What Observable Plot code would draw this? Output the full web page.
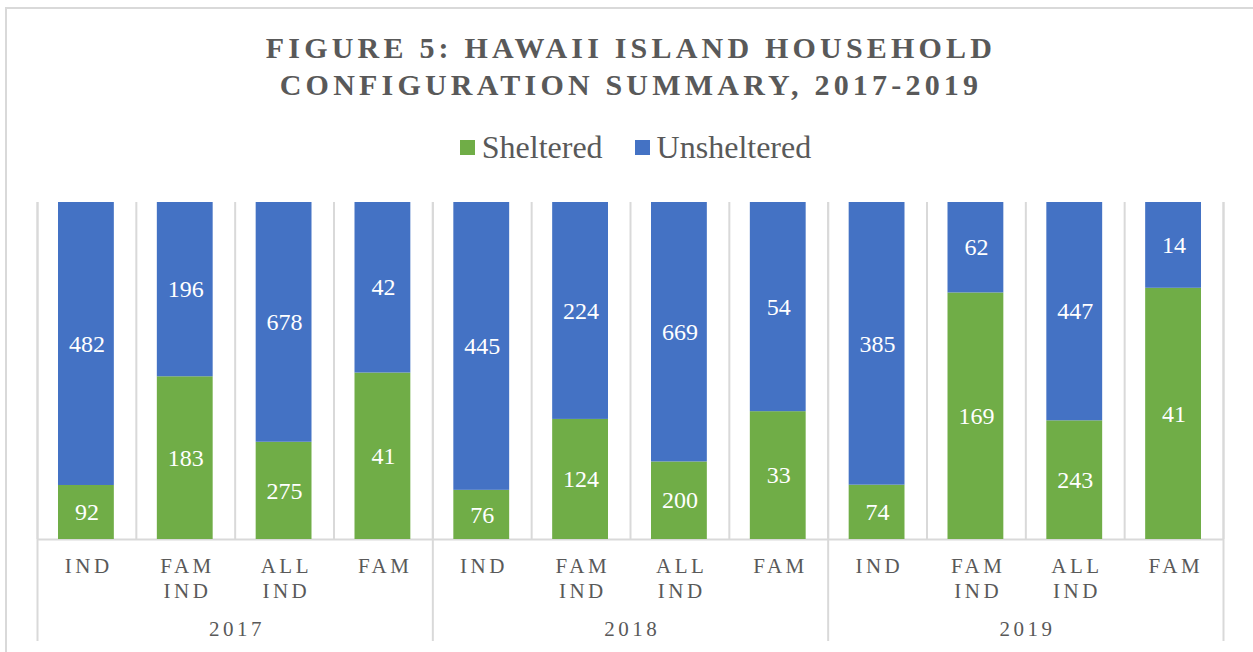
<!DOCTYPE html>
<html><head><meta charset="utf-8">
<script src="https://cdn.jsdelivr.net/npm/d3@7"></script>
<script src="https://cdn.jsdelivr.net/npm/@observablehq/plot@0.6"></script>
<style>
body{margin:0;background:#fff;}
#wrap{position:relative;width:1253px;height:652px;overflow:hidden;font-family:"Liberation Serif","Times New Roman",serif;}
#border{position:absolute;left:5px;top:7px;width:1300px;height:700px;border-left:2px solid #d9d9d9;border-top:2px solid #d9d9d9;}
#title{position:absolute;left:0;top:29px;width:1262px;text-align:center;font-weight:bold;font-size:30px;line-height:37px;letter-spacing:4.2px;color:#595959;}
#legend{position:absolute;left:0;top:127px;width:1271px;display:flex;justify-content:center;align-items:center;font-size:32px;line-height:40px;color:#595959;}
#legend .sw{display:inline-block;width:15px;height:15px;margin-right:7px;}
#legend .item{display:flex;align-items:center;}
#legend .item + .item{margin-left:32px;}
#chart{position:absolute;left:0;top:190px;}
#chart svg text{font-family:"Liberation Serif","Times New Roman",serif;}
</style>
</head><body>
<div id="wrap">
  <div id="border"></div>
  <div id="title">FIGURE 5: HAWAII ISLAND HOUSEHOLD<br>CONFIGURATION SUMMARY, 2017-2019</div>
  <div id="legend"></div>
  <div id="chart"></div>
</div>
<script>
const years = ["2017", "2018", "2019"];
const categories = ["IND", "FAM\nIND", "ALL\nIND", "FAM"];
const series = ["Sheltered", "Unsheltered"];
const colors = ["#70AD47", "#4472C4"];
const sheltered = [92, 183, 275, 41, 76, 124, 200, 33, 74, 169, 243, 41];
const unsheltered = [482, 196, 678, 42, 445, 224, 669, 54, 385, 62, 447, 14];

// Legend
const legend = document.getElementById("legend");
series.forEach((s, k) => {
  const it = document.createElement("span");
  it.className = "item";
  it.innerHTML = `<span class="sw" style="background:${colors[k]}"></span><span>${s}</span>`;
  legend.appendChild(it);
});

// Build rows
const rows = [];
const cats = [];
years.forEach((yr, yi) => {
  categories.forEach((c, ci) => {
    const i = yi * categories.length + ci;
    const s = sheltered[i], u = unsheltered[i], t = s + u;
    cats.push({i, label: c});
    rows.push({i, series: series[0], value: s, y1: 0, y2: s / t});
    rows.push({i, series: series[1], value: u, y1: s / t, y2: 1});
  });
});
const n = cats.length;
const groupBounds = d3.range(0, n + 1, categories.length);
const yearRows = years.map((yr, yi) => ({x: yi * categories.length + categories.length / 2, label: yr}));

const chart = Plot.plot({
  width: 1253,
  height: 462,
  marginTop: 12,
  marginBottom: 11,
  marginLeft: 37,
  marginRight: 30,
  style: {fontFamily: "'Liberation Serif','Times New Roman',serif", background: "transparent"},
  x: {domain: [0, n], axis: null},
  y: {domain: [0, 1], range: [349, 12], axis: null},
  color: {domain: series, range: colors},
  marks: [
    Plot.ruleX(d3.range(0, n + 1), {x: d => d, y1: 0, y2: 1, stroke: "#d9d9d9", strokeWidth: 2}),
    Plot.ruleX(groupBounds, {x: d => d, stroke: "#d9d9d9", strokeWidth: 2}),
    Plot.ruleY([0], {stroke: "#d9d9d9", strokeWidth: 2}),
    Plot.rectY(rows, {x1: "i", x2: d => d.i + 1, y1: "y1", y2: "y2", fill: "series", insetLeft: 21, insetRight: 22}),
    Plot.text(rows, {x: d => d.i + 0.5, y: d => (d.y1 + d.y2) / 2, text: d => String(d.value), fill: "white", fontSize: 24}),
    Plot.text(cats, {x: d => d.i + 0.5, y: 0, text: "label", dy: 16, dx: 1.75, lineAnchor: "top", lineHeight: 1.19, fontSize: 21, fill: "#595959"}),
    Plot.text(yearRows, {x: "x", y: 0, text: "label", dy: 82, dx: 1.75, lineAnchor: "top", fontSize: 21, fill: "#595959"})
  ]
});
// letter spacing for axis-like labels (2nd and 3rd text marks)
const textGroups = chart.querySelectorAll('g[aria-label="text"]');
[1, 2].forEach(k => { if (textGroups[k]) textGroups[k].style.letterSpacing = "3.5px"; });
document.getElementById("chart").appendChild(chart);
</script>
</body></html>
